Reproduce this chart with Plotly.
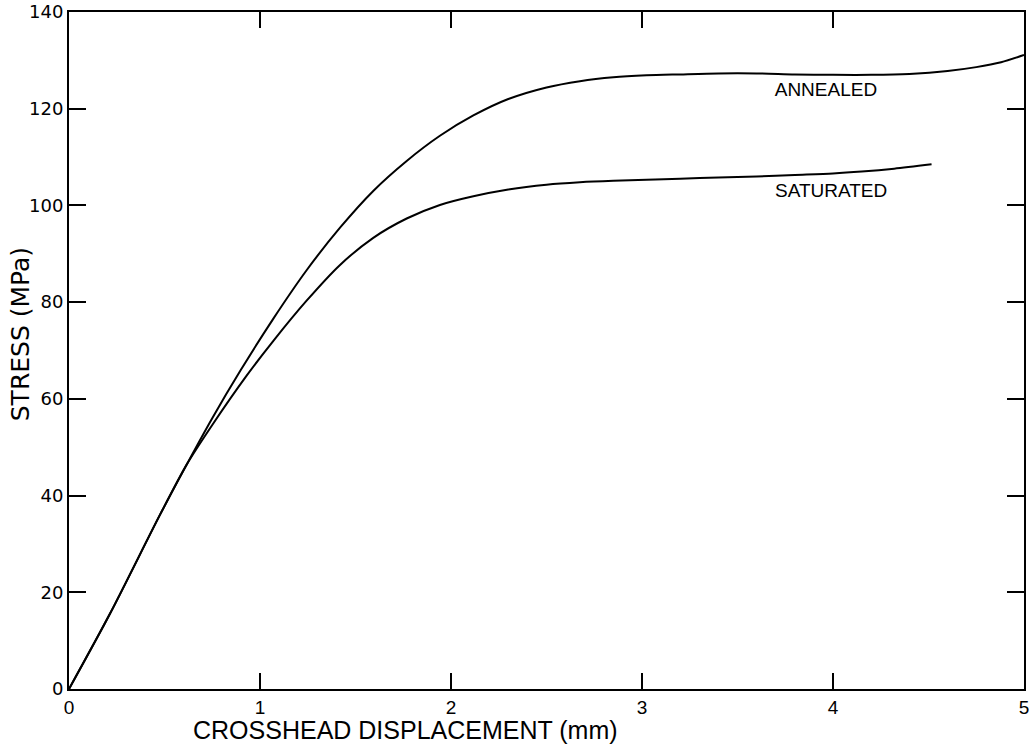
import plotly.graph_objects as go

# Data
annealed_x = [0, 0.215, 0.476, 0.616, 0.75, 0.9, 1.07, 1.244, 1.419, 1.593, 1.768, 1.942,
              2.117, 2.30, 2.50, 2.675, 2.85, 3.024, 3.2, 3.4, 3.6, 3.8, 4.0,
              4.2, 4.4, 4.6, 4.75, 4.88, 5.0]
annealed_y = [0, 15.6, 36.0, 46.4, 56.0, 66.0, 76.6, 86.6, 95.4, 103.0, 109.2, 114.4,
              118.6, 122.0, 124.4, 125.7, 126.5, 126.9, 127.1, 127.3, 127.3, 127.1, 127.0,
              127.0, 127.2, 127.8, 128.6, 129.6, 131.1]

saturated_x = [0, 0.215, 0.476, 0.616, 0.75, 0.93, 1.07, 1.244, 1.419, 1.593, 1.768, 1.942,
               2.117, 2.30, 2.50, 2.675, 2.85, 3.024, 3.2, 3.4, 3.6, 3.8, 4.0,
               4.15, 4.32, 4.516]
saturated_y = [0, 15.6, 36.0, 46.4, 54.6, 64.8, 72.0, 80.3, 87.7, 93.3, 97.3, 100.1,
               101.9, 103.3, 104.3, 104.8, 105.1, 105.3, 105.5, 105.8, 106.0, 106.3, 106.6,
               107.0, 107.6, 108.5]

x_ticks = [0, 1, 2, 3, 4, 5]
y_ticks = [0, 20, 40, 60, 80, 100, 120, 140]

labels = ["ANNEALED", "SATURATED"]
label_x = [3.963, 3.99]
label_y = [123.7, 102.7]

x_title = "CROSSHEAD DISPLACEMENT (mm)"
y_title = "STRESS (MPa)"

fig = go.Figure()
fig.add_trace(go.Scatter(x=annealed_x, y=annealed_y, mode="lines",
                         line=dict(color="black", width=2, shape="spline", smoothing=0.8),
                         name="ANNEALED", showlegend=False))
fig.add_trace(go.Scatter(x=saturated_x, y=saturated_y, mode="lines",
                         line=dict(color="black", width=2, shape="spline", smoothing=0.8),
                         name="SATURATED", showlegend=False))
fig.add_trace(go.Scatter(x=label_x, y=label_y, mode="text", text=labels,
                         textfont=dict(family="Liberation Sans, Arial, sans-serif", size=19, color="black"),
                         showlegend=False, hoverinfo="skip"))

fig.update_layout(
    width=1032, height=747,
    margin=dict(l=69, r=8, t=12, b=58),
    paper_bgcolor="white", plot_bgcolor="white",
    font=dict(family="Liberation Sans, Arial, sans-serif", color="black"),
)
fig.update_xaxes(
    range=[0, 5], tickvals=x_ticks, ticktext=[str(v) for v in x_ticks],
    showline=True, linecolor="black", linewidth=2, mirror="ticks",
    ticks="inside", ticklen=16, tickwidth=1.5, tickcolor="black",
    showgrid=False, zeroline=False, automargin=False, ticklabeloverflow="allow",
    tickfont=dict(family="Liberation Sans Narrow, Liberation Sans, sans-serif", size=19),
)
fig.update_yaxes(
    range=[0, 140], tickvals=y_ticks, ticktext=[str(v) for v in y_ticks],
    showline=True, linecolor="black", linewidth=2, mirror="ticks",
    ticks="inside", ticklen=17, tickwidth=1.5, tickcolor="black",
    showgrid=False, zeroline=False, automargin=False, ticklabeloverflow="allow",
    tickfont=dict(family="DejaVu Sans, sans-serif", size=18),
)

fig.add_annotation(text=x_title, xref="paper", yref="paper", x=0.352, y=0,
                   yshift=-41, xanchor="center", yanchor="middle", showarrow=False,
                   font=dict(family="Liberation Sans, Arial, sans-serif", size=25, color="black"))
fig.add_annotation(text=y_title, xref="paper", yref="paper", x=0, y=0.524,
                   xshift=-49, xanchor="center", yanchor="middle", showarrow=False,
                   textangle=-90,
                   font=dict(family="DejaVu Sans, sans-serif", size=25, color="black"))

# Remove the default page margin so the figure fills the 1032x747 window exactly.
fig.write_html("out.html",
               config={"displayModeBar": False},
               post_script="document.body.style.margin='0';document.body.style.overflow='hidden';")
